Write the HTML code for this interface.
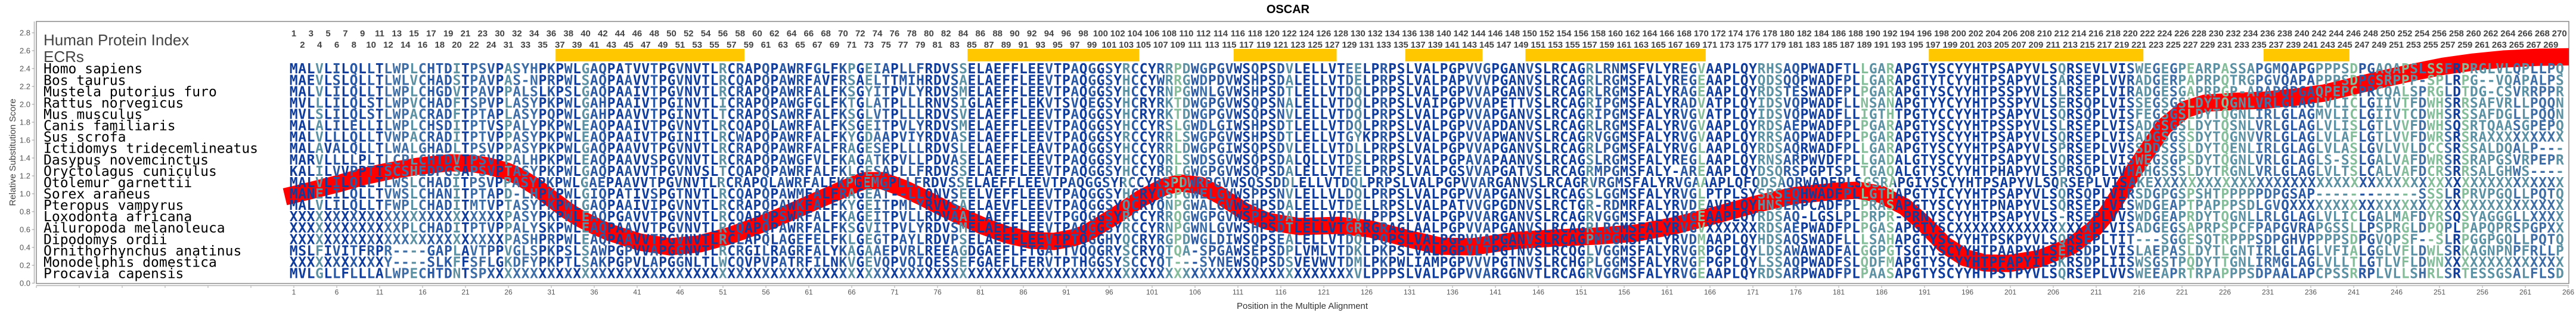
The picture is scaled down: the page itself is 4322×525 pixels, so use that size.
<!DOCTYPE html>
<html><head><meta charset="utf-8">
<style>
body{margin:0;width:4322px;height:525px;position:relative;overflow:hidden;background:#fff;font-family:"Liberation Sans",Arial,sans-serif}
svg{position:absolute;left:0;top:0}
.a{stop-color:#103c9c}.b{stop-color:#2a58a3}.c{stop-color:#3f6ea6}.d{stop-color:#5c90a3}.e{stop-color:#85bd9b}
.s{font-family:"DejaVu Sans Mono","Liberation Mono",monospace;font-weight:bold;font-size:23px;fill:url(#g)}
.n{font-family:"DejaVu Sans Mono","Liberation Mono",monospace;font-size:23px;fill:#000}
.row{position:absolute;display:flex;font-weight:bold;font-size:15px;line-height:17px;color:#444;white-space:nowrap}
.row b{flex:0 0 28.8px;width:28.8px;text-align:center}
.xl{position:absolute;display:flex;top:483px;left:457px;font-size:12px;line-height:14px;color:#555;white-space:nowrap}
.xl i{flex:0 0 72px;width:72px;text-align:center;font-style:normal}
</style></head><body>
<svg width="4322" height="525" viewBox="0 0 4322 525">
<defs>
<linearGradient id="g" gradientUnits="userSpaceOnUse" x1="485.8" y1="0" x2="14885.8" y2="0">
<stop offset="0" class="a"/><stop offset=".003" class="a"/><stop offset=".003" class="d"/><stop offset=".004" class="d"/><stop offset=".004" class="a"/><stop offset=".005" class="a"/><stop offset=".005" class="b"/><stop offset=".006" class="b"/><stop offset=".006" class="a"/><stop offset=".007" class="a"/><stop offset=".007" class="b"/><stop offset=".008" class="b"/><stop offset=".008" class="a"/><stop offset=".009" class="a"/><stop offset=".009" class="b"/><stop offset=".010" class="b"/><stop offset=".010" class="a"/><stop offset=".011" class="a"/><stop offset=".011" class="c"/><stop offset=".014" class="c"/><stop offset=".014" class="d"/><stop offset=".015" class="d"/><stop offset=".015" class="c"/><stop offset=".016" class="c"/><stop offset=".016" class="b"/><stop offset=".019" class="b"/><stop offset=".019" class="d"/><stop offset=".020" class="d"/><stop offset=".020" class="a"/><stop offset=".021" class="a"/><stop offset=".021" class="c"/><stop offset=".023" class="c"/><stop offset=".023" class="b"/><stop offset=".024" class="b"/><stop offset=".024" class="a"/><stop offset=".025" class="a"/><stop offset=".025" class="d"/><stop offset=".026" class="d"/><stop offset=".026" class="c"/><stop offset=".029" class="c"/><stop offset=".029" class="a"/><stop offset=".030" class="a"/><stop offset=".030" class="b"/><stop offset=".031" class="b"/><stop offset=".031" class="a"/><stop offset=".032" class="a"/><stop offset=".032" class="b"/><stop offset=".033" class="b"/><stop offset=".033" class="a"/><stop offset=".034" class="a"/><stop offset=".034" class="d"/><stop offset=".035" class="d"/><stop offset=".035" class="b"/><stop offset=".037" class="b"/><stop offset=".037" class="a"/><stop offset=".039" class="a"/><stop offset=".039" class="b"/><stop offset=".040" class="b"/><stop offset=".040" class="a"/><stop offset=".042" class="a"/><stop offset=".042" class="b"/><stop offset=".043" class="b"/><stop offset=".043" class="a"/><stop offset=".045" class="a"/><stop offset=".045" class="b"/><stop offset=".046" class="b"/><stop offset=".046" class="a"/><stop offset=".050" class="a"/><stop offset=".050" class="d"/><stop offset=".051" class="d"/><stop offset=".051" class="a"/><stop offset=".052" class="a"/><stop offset=".052" class="b"/><stop offset=".053" class="b"/><stop offset=".053" class="a"/><stop offset=".055" class="a"/><stop offset=".055" class="b"/><stop offset=".056" class="b"/><stop offset=".056" class="a"/><stop offset=".057" class="a"/><stop offset=".057" class="b"/><stop offset=".058" class="b"/><stop offset=".058" class="a"/><stop offset=".059" class="a"/><stop offset=".059" class="b"/><stop offset=".060" class="b"/><stop offset=".060" class="a"/><stop offset=".061" class="a"/><stop offset=".061" class="b"/><stop offset=".062" class="b"/><stop offset=".062" class="a"/><stop offset=".064" class="a"/><stop offset=".064" class="b"/><stop offset=".065" class="b"/><stop offset=".065" class="d"/><stop offset=".066" class="d"/><stop offset=".066" class="a"/><stop offset=".067" class="a"/><stop offset=".067" class="d"/><stop offset=".068" class="d"/><stop offset=".068" class="c"/><stop offset=".069" class="c"/><stop offset=".069" class="b"/><stop offset=".070" class="b"/><stop offset=".070" class="a"/><stop offset=".071" class="a"/><stop offset=".071" class="b"/><stop offset=".074" class="b"/><stop offset=".074" class="a"/><stop offset=".077" class="a"/><stop offset=".077" class="b"/><stop offset=".078" class="b"/><stop offset=".078" class="d"/><stop offset=".079" class="d"/><stop offset=".079" class="a"/><stop offset=".088" class="a"/><stop offset=".088" class="b"/><stop offset=".089" class="b"/><stop offset=".089" class="a"/><stop offset=".091" class="a"/><stop offset=".091" class="b"/><stop offset=".092" class="b"/><stop offset=".092" class="a"/><stop offset=".093" class="a"/><stop offset=".093" class="b"/><stop offset=".094" class="b"/><stop offset=".094" class="a"/><stop offset=".095" class="a"/><stop offset=".095" class="b"/><stop offset=".096" class="b"/><stop offset=".096" class="a"/><stop offset=".097" class="a"/><stop offset=".097" class="d"/><stop offset=".098" class="d"/><stop offset=".098" class="b"/><stop offset=".099" class="b"/><stop offset=".099" class="a"/><stop offset=".101" class="a"/><stop offset=".101" class="b"/><stop offset=".102" class="b"/><stop offset=".102" class="d"/><stop offset=".103" class="d"/><stop offset=".103" class="e"/><stop offset=".104" class="e"/><stop offset=".104" class="d"/><stop offset=".105" class="d"/><stop offset=".105" class="b"/><stop offset=".106" class="b"/><stop offset=".106" class="c"/><stop offset=".107" class="c"/><stop offset=".107" class="b"/><stop offset=".110" class="b"/><stop offset=".110" class="a"/><stop offset=".112" class="a"/><stop offset=".112" class="b"/><stop offset=".113" class="b"/><stop offset=".113" class="a"/><stop offset=".115" class="a"/><stop offset=".115" class="b"/><stop offset=".116" class="b"/><stop offset=".116" class="d"/><stop offset=".117" class="d"/><stop offset=".117" class="a"/><stop offset=".123" class="a"/><stop offset=".123" class="c"/><stop offset=".124" class="c"/><stop offset=".124" class="d"/><stop offset=".125" class="d"/><stop offset=".125" class="a"/><stop offset=".127" class="a"/><stop offset=".127" class="b"/><stop offset=".128" class="b"/><stop offset=".128" class="a"/><stop offset=".137" class="a"/><stop offset=".137" class="b"/><stop offset=".140" class="b"/><stop offset=".140" class="a"/><stop offset=".144" class="a"/><stop offset=".144" class="b"/><stop offset=".145" class="b"/><stop offset=".145" class="a"/><stop offset=".151" class="a"/><stop offset=".151" class="d"/><stop offset=".152" class="d"/><stop offset=".152" class="b"/><stop offset=".155" class="b"/><stop offset=".155" class="a"/><stop offset=".162" class="a"/><stop offset=".162" class="b"/><stop offset=".164" class="b"/><stop offset=".164" class="e"/><stop offset=".165" class="e"/><stop offset=".165" class="a"/><stop offset=".171" class="a"/><stop offset=".171" class="d"/><stop offset=".174" class="d"/><stop offset=".174" class="b"/><stop offset=".176" class="b"/><stop offset=".176" class="a"/><stop offset=".181" class="a"/><stop offset=".181" class="b"/><stop offset=".182" class="b"/><stop offset=".182" class="a"/><stop offset=".183" class="a"/><stop offset=".183" class="e"/><stop offset=".184" class="e"/><stop offset=".184" class="d"/><stop offset=".186" class="d"/><stop offset=".186" class="e"/><stop offset=".187" class="e"/><stop offset=".187" class="a"/><stop offset=".206" class="a"/><stop offset=".206" class="d"/><stop offset=".207" class="d"/><stop offset=".207" class="a"/><stop offset=".209" class="a"/><stop offset=".209" class="b"/><stop offset=".210" class="b"/><stop offset=".210" class="a"/><stop offset=".214" class="a"/><stop offset=".214" class="b"/><stop offset=".215" class="b"/><stop offset=".215" class="d"/><stop offset=".217" class="d"/><stop offset=".217" class="c"/><stop offset=".218" class="c"/><stop offset=".218" class="d"/><stop offset=".219" class="d"/><stop offset=".219" class="c"/><stop offset=".220" class="c"/><stop offset=".220" class="d"/><stop offset=".221" class="d"/><stop offset=".221" class="e"/><stop offset=".222" class="e"/><stop offset=".222" class="d"/><stop offset=".225" class="d"/><stop offset=".225" class="e"/><stop offset=".226" class="e"/><stop offset=".226" class="d"/><stop offset=".229" class="d"/><stop offset=".229" class="c"/><stop offset=".232" class="c"/><stop offset=".232" class="b"/><stop offset=".236" class="b"/><stop offset=".236" class="d"/><stop offset=".240" class="d"/><stop offset=".240" class="e"/><stop offset=".241" class="e"/><stop offset=".241" class="b"/><stop offset=".243" class="b"/><stop offset=".243" class="d"/><stop offset=".246" class="d"/><stop offset=".246" class="e"/><stop offset=".247" class="e"/><stop offset=".247" class="d"/><stop offset=".248" class="d"/><stop offset=".248" class="c"/><stop offset=".249" class="c"/><stop offset=".249" class="e"/><stop offset=".251" class="e"/><stop offset=".251" class="c"/><stop offset=".252" class="c"/><stop offset=".252" class="a"/><stop offset=".253" class="a"/><stop offset=".253" class="e"/><stop offset=".254" class="e"/><stop offset=".254" class="d"/><stop offset=".259" class="d"/><stop offset=".259" class="c"/><stop offset=".260" class="c"/><stop offset=".260" class="d"/><stop offset=".261" class="d"/><stop offset=".261" class="c"/><stop offset=".264" class="c"/><stop offset=".264" class="d"/><stop offset="1" class="d"/>
</linearGradient>
<clipPath id="pc"><rect x="61" y="36" width="4249" height="439.5"/></clipPath>
</defs>

<!-- title -->
<text x="2161" y="22" text-anchor="middle" font-family="Liberation Sans, Arial, sans-serif" font-weight="bold" font-size="20" fill="#000">OSCAR</text>

<!-- plot frame -->
<rect x="61" y="36" width="4249" height="439.5" fill="none" stroke="#8a8a8a" stroke-width="1.5"/>
<line x1="57.5" y1="36" x2="57.5" y2="475.5" stroke="#b4b4b4" stroke-width="1.5"/>
<line x1="61" y1="479" x2="4310" y2="479" stroke="#b4b4b4" stroke-width="1.5"/>

<!-- y ticks -->
<path d="M53.5 475H57.5M53.5 445H57.5M53.5 415H57.5M53.5 385H57.5M53.5 355H57.5M53.5 325H57.5M53.5 295H57.5M53.5 265H57.5M53.5 235H57.5M53.5 205H57.5M53.5 175H57.5M53.5 145H57.5M53.5 115H57.5M53.5 85H57.5M53.5 55H57.5" stroke="#999" stroke-width="1"/>
<g font-family="Liberation Sans, Arial, sans-serif" font-size="13" fill="#555" text-anchor="end">
<text x="51" y="479.5">0.0</text><text x="51" y="449.5">0.2</text><text x="51" y="419.5">0.4</text><text x="51" y="389.5">0.6</text><text x="51" y="359.5">0.8</text><text x="51" y="329.5">1.0</text><text x="51" y="299.5">1.2</text><text x="51" y="269.5">1.4</text><text x="51" y="239.5">1.6</text><text x="51" y="209.5">1.8</text><text x="51" y="179.5">2.0</text><text x="51" y="149.5">2.2</text><text x="51" y="119.5">2.4</text><text x="51" y="89.5">2.6</text><text x="51" y="59.5">2.8</text>
</g>
<text transform="translate(26,255.5) rotate(-90)" text-anchor="middle" font-family="Liberation Sans, Arial, sans-serif" font-size="15" fill="#444">Relative Substitution Score</text>

<!-- x ticks -->
<path d="M61 479v4M133 479v4M205 479v4M277 479v4M349 479v4M421 479v4M493 479v4M565 479v4M637 479v4M709 479v4M781 479v4M853 479v4M925 479v4M997 479v4M1069 479v4M1141 479v4M1213 479v4M1285 479v4M1357 479v4M1429 479v4M1501 479v4M1573 479v4M1645 479v4M1717 479v4M1789 479v4M1861 479v4M1933 479v4M2005 479v4M2077 479v4M2149 479v4M2221 479v4M2293 479v4M2365 479v4M2437 479v4M2509 479v4M2581 479v4M2653 479v4M2725 479v4M2797 479v4M2869 479v4M2941 479v4M3013 479v4M3085 479v4M3157 479v4M3229 479v4M3301 479v4M3373 479v4M3445 479v4M3517 479v4M3589 479v4M3661 479v4M3733 479v4M3805 479v4M3877 479v4M3949 479v4M4021 479v4M4093 479v4M4165 479v4M4237 479v4M4309 479v4" stroke="#aaa" stroke-width="1"/>
<text x="2185" y="518" text-anchor="middle" font-family="Liberation Sans, Arial, sans-serif" font-size="15" fill="#333">Position in the Multiple Alignment</text>

<!-- header -->
<text x="73" y="76" font-family="Liberation Sans, Arial, sans-serif" font-size="26" fill="#444">Human Protein Index</text>
<text x="73" y="104" font-family="Liberation Sans, Arial, sans-serif" font-size="26" fill="#444">ECRs</text>

<!-- ECR bars -->
<g fill="#ffc700">
<rect x="932.2" y="82" width="316.8" height="21"/>
<rect x="1623.4" y="82" width="288" height="21"/>
<rect x="2069.8" y="82" width="172.8" height="21"/>
<rect x="2357.8" y="82" width="129.6" height="21"/>
<rect x="2559.4" y="82" width="302.4" height="21"/>
<rect x="3236.2" y="82" width="360" height="21"/>
<rect x="3797.8" y="82" width="144" height="21"/>
</g>

<!-- red curve -->
<polyline clip-path="url(#pc)" fill="none" stroke="#ff0000" stroke-width="29" stroke-linejoin="round" stroke-linecap="butt" points="478,330 520,320 568,308 610,296 652,287 700,279 754,273 790,274 821,279 850,287 871,296 900,314 922,331 950,352 972,366 1000,380 1023,390 1073,406 1124,414 1174,409 1225,395 1275,377 1326,356 1376,334 1427,312 1450,303 1480,303 1516,316 1550,332 1583,349 1615,364 1649,379 1690,394 1730,403 1768,405 1800,399 1821,392 1850,375 1874,360 1914,333 1954,313 1980,307 2014,311 2047,328 2087,354 2126,371 2179,380 2246,378 2299,384 2365,401 2418,413 2470,414 2546,403 2613,399 2679,396 2745,391 2812,378 2878,361 2944,343 3010,328 3077,321 3117,319 3156,326 3196,347 3229,376 3262,410 3296,432 3330,441 3370,442 3421,434 3475,413 3514,383 3535,358 3556,325 3581,285 3606,248 3631,212 3665,184 3700,173 3750,170 3800,168 3850,163 3900,156 3950,144 4000,132 4050,121 4100,111 4150,104 4200,99 4260,96 4330,95"/>

<!-- species names -->
<g class="n">
<text x="73" y="123.2">Homo sapiens</text>
<text x="73" y="142.3">Bos taurus</text>
<text x="73" y="161.3">Mustela putorius furo</text>
<text x="73" y="180.4">Rattus norvegicus</text>
<text x="73" y="199.5">Mus musculus</text>
<text x="73" y="218.6">Canis familiaris</text>
<text x="73" y="237.6">Sus scrofa</text>
<text x="73" y="256.7">Ictidomys tridecemlineatus</text>
<text x="73" y="275.8">Dasypus novemcinctus</text>
<text x="73" y="294.8">Oryctolagus cuniculus</text>
<text x="73" y="313.9">Otolemur garnettii</text>
<text x="73" y="333.0">Sorex araneus</text>
<text x="73" y="352.0">Pteropus vampyrus</text>
<text x="73" y="371.1">Loxodonta africana</text>
<text x="73" y="390.2">Ailuropoda melanoleuca</text>
<text x="73" y="409.3">Dipodomys ordii</text>
<text x="73" y="428.3">Ornithorhynchus anatinus</text>
<text x="73" y="447.4">Monodelphis domestica</text>
<text x="73" y="466.5">Procavia capensis</text>
</g>

<!-- sequences -->
<g class="s">
<text x="485.8" y="123.2" textLength="3816" lengthAdjust="spacing">MALVLILQLLTLWPLCHTDITPSVPASYHPKPWLGAQPATVVTPGVNVTLRCRAPQPAWRFGLFKPGEIAPLLFRDVSSELAEFFLEEVTPAQGGSYRCCYRRPDWGPGVWSQPSDVLELLVTEELPRPSLVALPGPVVGPGANVSLRCAGRLRNMSFVLYREGVAAPLQYRHSAQPWADFTLLGARAPGTYSCYYHTPSAPYVLSQRSEVLVISWEGEGPEARPASSAPGMQAPGPPPSDPGAQAPSLSSFRPRGLVLQPLLPQ</text>
<text x="485.8" y="142.3" textLength="3816" lengthAdjust="spacing">MAEVLSLQLLTLWLVCHADSTPAVPAS-NPRPWLSAQPAAVVTPGVNVTLRCQAPQPAWRFAVFRSAELTTMIHRDVSAELAEFFLEEVTPAQGGSYHCCYWRRGWDPDVWSHPSDALELLVTDELPRPSLVALPAPVVVPGANVSLRCAGRLRGMSFALYREGEAAPLQYQDSQQPWADFPLLGARAPGTYTCYYHTPSAPYVLSARSEPLVVRADGERPAPRPQTRGPGVQAPAPPPSDPGSRPPP-SPLRPG--VQAPALPS</text>
<text x="485.8" y="161.3" textLength="3816" lengthAdjust="spacing">MALVLILQLLTLWPLCHGDVTPAVPPALSLKPSLGAQPAAIVTPGVNVTLRCRAPQPAWRFALFKSGYITPVLYRDVSMELAEFFLEEVTPAQGGSYHCCYRNPGWNLGVWSHPSDTLELLVTDQLPPPSLVALPGPVVAPGANVSLRCAGRLRGMSFALYRAGEAAPLQYRDSTESWADFPLPGARAPGTYSCYYHTPSSPYVLSLRSEPLVIRADGESGAPRPGP-APAPQPGAQPEPCPRCQALSPRGLDTDG-CSVRRPPR</text>
<text x="485.8" y="180.4" textLength="3816" lengthAdjust="spacing">MVLLLILQLSTLWPVCHADFTSPVPLASYPKPWLGAHPAAIVTPGINVTLICRAPQPAWGFGLFKTGLATPLLLRNVSIGLAEFFLEKVTSVQEGSYHCRYRKTDWGPGVWSQPSNALELLVTDQLPRPSLVAIPGPVVAPETTVSLRCAGRIPGMSFALYRADVATPLQYIDSVQPWADFLLNSANAPGTYYCYYHTPSSPYVLSERSQPLVISSEGSGSLDYTQGNLVRLGLAGLVLICLGIIVTFDWHSRRSAFVRLLPQQN</text>
<text x="485.8" y="199.5" textLength="3816" lengthAdjust="spacing">MVLSLILQLSTLWPACRADFTPTAPLASYPQPWLGAHPAAVVTPGINVTLTCRAPQSAWRFALFKSGLVTPLLLRDVSVELAEFFLEEVTPAQGGSYHCRYRKTDWGPGVWSQPSNVLELLVTDQLPRPSLVALPGPVVAPGANVSLRCAGRIPGMSFALYRVGVATPLQYIDSVQPWADFLLIGTHTPGTYCCYYHTPSAPYVLSQRSQPLVISFEGSGSLDYTQGNLIRLGLAGMVLICLGIIVTCDWHSRSSAFDGLLPQQN</text>
<text x="485.8" y="218.6" textLength="3816" lengthAdjust="spacing">MALALILELLILWPLCHSDITPTVSPALYPKPWLEAQPAAIVTPGVNVTLRCQAPQLAWRFALFKSGEITPVLYRDVSMELAEFFLEEVTPAQGGSYHCCYRSLGWDLGIWSHPSDTLELLVTDQLPRPSLVALPGPVVAPDANVSLRCAGRLRGMSFALYRVGVAAPLQYRDSAEPWADFPLPGARAPGTYSCYYHTPSSPYVLSLRSEPLVISADGSGSLDYTQSNLVRLGLAGLVLISLGTLVVFDWHSQSRTQAASGPEPQ</text>
<text x="485.8" y="237.6" textLength="3816" lengthAdjust="spacing">MALVLLLQLLTVWPACRADITPTVPPASYPKPWLEAQPAAIVTPGINITLRCWAPQPAWRFALFKYGDAAPVIYRDVASELAEFFLEEVTPAQGGSYRCCYRRLSWGPGVWSHPSDTLELLVTGYKPRPSLVALPGPVVAPWANVSLRCAGRVGGMSFALYRVGVAAPLQYRRSAQPWADFPLPGARAPGTYSCYYHTPSAPYVLSQRSEPLVISADGSGSSDYTQGNVVRLGLAGLVLAFLGTLVVFDWRSRSRAXXXXXXXXX</text>
<text x="485.8" y="256.7" textLength="3816" lengthAdjust="spacing">MALAVALQLLTLWALGHADLTPSVPPASYPKPWLGAQPAAVVTPGVNVTLRCRAPQPAWRFALFRAGESEPLLLRDVSLELAEFFLEAVTPAQGGSYHCCYRRLDWGPGIWSQPSDVLELLVTDLLPRPSLVALPGPVVAPGANVSLRCAGRLPGMSFALYRVGLAAPLQYRDSAQRWADFPLLGARAPGTYSCYYHTPSAPYVLSPRSEPLVVSSDDSSSLDYTQENLIRLGLAGLVLASLGVLVVLDCCSRSSALDQALP---</text>
<text x="485.8" y="275.8" textLength="3816" lengthAdjust="spacing">MARVLLLLPLTLCPLCHTDVTPSVPPALHPKPWLEAQPAAVVSPGVNVTLRCRAPQPAWGFVLFKAGATKPVLLPDVASELAEFFLEEVTPAQGGSYHCCYQRLSWDSGVWSQPSDALQLLVTDSLPRPSLVALPGPAVAPAANVSLRCAGSLRGMSFALYREGLAAPLQYRNSARPWVDFPLLGADALGTYSCYYHTPSAPYVLSQRSEPLVISWEGSGPSDYTQGNLVRLGLAGLS-SSLGALVAFDWRSRSRAPGSVRPEPR</text>
<text x="485.8" y="294.8" textLength="3816" lengthAdjust="spacing">KALILVVPPTTSCSHEDPGSAPSVPTASYPKPWLGAQPAAVVTPGVNVSLTCQAPQPAWRFALFKLGESAPLLFRDVSSELAEFFLEEVTPAQGGSYHCCYRRLGWGPGVWSQPSDALELLVTEELPRPSLVALPGSVVAPGATVSLRCAGRMPGMSFALY-AREAAPLQYDSQRSPGPTSPLTGAQALGTYSCYYHTPHAPYVLSPRSQPLVVHAHGSSSLDYTRGNLVRLGLAGLVLTSLCALVAFDCRSRRSALGHWS----</text>
<text x="485.8" y="313.9" textLength="3816" lengthAdjust="spacing">MALVLILQLLTLWSLCHADITPSVPPASYPKPWLGAEPAAVVTPGVNVTLRCRAPQLAWRFALFKPGEMGPLLFRDVSSELAEFFLEEVTPAQGGSYRCCYRSPDWRPGVWSQSSDDLELLVTDQLPRPSLVALPGPVVARGANVSLRCAGRVRGMSFALYRVGAAAPLQFQDSAQRWADFPLSGSRAPGIYSCYYHTPSAPYVLSQRSEPLVISAKEXXXXXXXXXXXXXXXXXXXXXXXXXXXXXXXXXXXXXXXXXXXXXXXX</text>
<text x="485.8" y="333.0" textLength="3816" lengthAdjust="spacing">MANELILQLLTVWSLCHANITPTAPD-LHPKPWLGIQPATIVSPGTNVTLRCQAPQPAWMFALFRAGEAT--LLQNVSEELVEFFLEEVTPAQGGSYHCRYQSPGWELGVWSPPSNVLELLVLDQLPRPSLVALPGPVVAPGANVSLRCAGSLGGMSFALYRVGLPTPLSYSRSEQHWADFPLLGTHAPGTYICYYHTPSAPYVLSQRSQPLVIRSDGPGSPSHTPPPPPDPGSAP------------SSSLRPRVPGQLLPQTQ</text>
<text x="485.8" y="352.0" textLength="3816" lengthAdjust="spacing">MALVLILQLLTFWPLCHADITMTVPTASYPKPWLGAQPAAIVIPGVNVTLRCRAPQPAWKFALFKYGEITPMLYRVVSAELAEVFLEEVTPAQGGSYQCRYQNPGWALGVWSHPSDALELLVTDELLRPSLVALPATVVGPGDNVSLRCTGR-RDMRFALYRVDEAVPLQYHNSERPCADFPLPRASAPGTYSCYYHTPNAPYVLSQRSEPLVISWDGEAPTPAPPPSDLGVQXXXXXXXXXXXXXXXXXXXXXXXXXXXXXXXX</text>
<text x="485.8" y="371.1" textLength="3816" lengthAdjust="spacing">XXXXXXXXXXXXXXXXXXXXXXXXXPASYPKPWLEAQPGAVVTPGVNVTLRCQAPQPSWRFALFKAGEITPVLLRDVAAELAEFFLEEVTPGQGGSYRCCYRRQGWGPGVWSPPSDALELLVTDVLPPPSLVALPGPVVARGANVSLRCAGRVGGMSFALYRVGEAAPLQYRDSAQ-LGSLPLPRPR-PRNYSCYYHTPSAPYVLS-RSEPLVVSWDGEAPRDYTQGNLLRLGLAGLVLICLGALMAFDYRSQSYAGGGLLXXXX</text>
<text x="485.8" y="390.2" textLength="3816" lengthAdjust="spacing">XXXXXXXXXXXXXPLCHADITPTVPPALYSKPWLEAQPAAVVTPGVNVTLRCQAPQPAWRFALFKSGVITPVLYRDVSMELAEFFLEEVTPAQGGSYRCCYRNPGWNLGVWSHPSDTLELLVTGRRGRAGLAALPGPVVAPGANVSLRCAGRLRGMSFALYRVGVXXXXXXRDSAEPWADFPLPGASAPGTYSCXXXXXXXXXXXXXXXXPLVISADGEGSAPRPSPCFPAPGVRAPGSSLLPSPRGLDPQPLPAPQPRSPGPXX</text>
<text x="485.8" y="409.3" textLength="3816" lengthAdjust="spacing">XXXXXXXXXXXXXXXXXXXXXXXXXPASHPRPWLEAQPAAVVTPGVNVTLRCLAPQLAGEFELFKLGEGTPAYLRDVPSELAEFFLEEVTPTQGGHYQCRYRGPDWGLDIWSQPSEALELLVTDQLPQPSLVALPGPVVAPGANVSLRCAGPMPGMSFALYRVDMAAPLQYHDSAQSWADFLLLSAHAPGTYSCYYHTPSKPYVLSQRSEPLTIT---SGGESQTRPPPSDPGHVPPPPSDPGVQPSF--SLRPGGPGQLLPQTQ</text>
<text x="485.8" y="428.3" textLength="3816" lengthAdjust="spacing">MSLFIVITFRPR----GAPLAVTPPVGLSPKPSLSAWPGPVVAPGGNVTLRCRGILRAGRFALYKAGAAEPVRLREEAGDGAEFLFTGATTVQQGRYSCRYQTQA-SPGAWSEPSDPLVMLVTDKLPKPSLVALPGPVLTPGTNVSLRCQGLVGGMSFALYRVGRPGPLQYLDSAWAWADFALGGPGTSGTYSCYYHTPAAPYVLSERSDPLVISLAEPASLDYTLGNTIRLGLAGLVFIALGGLVFLDWLSRKAGNPNPFRLLP</text>
<text x="485.8" y="447.4" textLength="3816" lengthAdjust="spacing">XXXXXXXXXXXY----SLKFFSFLGKDFYPKPTLSAKPGPVLAPGGNLTLWCQVPVPATRFILNKVGEVQPVQIQESSEFGAEFLFERVTPTHGGSYSCCYQT---SYNEWSQPSDSVEVWVTDMLPKPWLIAMPGPVVVPGTNVSLRCHGPLGGMSFALYRVGFPGPLQYLSSAQPWADFSLQDFMAPGTYSCYYHTPFAPYILSKRSDPLIISWSGSTPQDYTTGNLIRMGLAGLVLLTLGTLVFLDWNXXXXXXXXXXXXXX</text>
<text x="485.8" y="466.5" textLength="3816" lengthAdjust="spacing">MVLGLLFLLLALWPECHTDNTSPXXXXXXXXXXXXXXXXXXXXXXXXXXXXXXXXXXXXXXXXXXXXXXXXXXXXXXXXXXXXXXXXXXXXXXXXXXXXXXXXXXXXXXXXXXXXXXXXXXXXXVLPPPSLVALPGPVVARGGNVTLRCAGRVGGMSFALYRVGEAAPLQYRDSARPWADFPLPAASAPGTYSCYYHTPSTPYVLSQRSEPLVVSWEEAPRTRPAPPPSDPAALAPCPSSRRPLVLLSHRLSRTESSGSALFLSD</text>
</g>
</svg>

<div class="row" style="left:478.6px;top:48px"><b>1</b><b>3</b><b>5</b><b>7</b><b>9</b><b>11</b><b>13</b><b>15</b><b>17</b><b>19</b><b>21</b><b>23</b><b>30</b><b>32</b><b>34</b><b>36</b><b>38</b><b>40</b><b>42</b><b>44</b><b>46</b><b>48</b><b>50</b><b>52</b><b>54</b><b>56</b><b>58</b><b>60</b><b>62</b><b>64</b><b>66</b><b>68</b><b>70</b><b>72</b><b>74</b><b>76</b><b>78</b><b>80</b><b>82</b><b>84</b><b>86</b><b>88</b><b>90</b><b>92</b><b>94</b><b>96</b><b>98</b><b>100</b><b>102</b><b>104</b><b>106</b><b>108</b><b>110</b><b>112</b><b>114</b><b>116</b><b>118</b><b>120</b><b>122</b><b>124</b><b>126</b><b>128</b><b>130</b><b>132</b><b>134</b><b>136</b><b>138</b><b>140</b><b>142</b><b>144</b><b>146</b><b>148</b><b>150</b><b>152</b><b>154</b><b>156</b><b>158</b><b>160</b><b>162</b><b>164</b><b>166</b><b>168</b><b>170</b><b>172</b><b>174</b><b>176</b><b>178</b><b>180</b><b>182</b><b>184</b><b>186</b><b>188</b><b>190</b><b>192</b><b>194</b><b>196</b><b>198</b><b>200</b><b>202</b><b>204</b><b>206</b><b>208</b><b>210</b><b>212</b><b>214</b><b>216</b><b>218</b><b>220</b><b>222</b><b>224</b><b>226</b><b>228</b><b>230</b><b>232</b><b>234</b><b>236</b><b>238</b><b>240</b><b>242</b><b>244</b><b>246</b><b>248</b><b>250</b><b>252</b><b>254</b><b>256</b><b>258</b><b>260</b><b>262</b><b>264</b><b>266</b><b>268</b><b>270</b></div>
<div class="row" style="left:493px;top:67px"><b>2</b><b>4</b><b>6</b><b>8</b><b>10</b><b>12</b><b>14</b><b>16</b><b>18</b><b>20</b><b>22</b><b>24</b><b>31</b><b>33</b><b>35</b><b>37</b><b>39</b><b>41</b><b>43</b><b>45</b><b>47</b><b>49</b><b>51</b><b>53</b><b>55</b><b>57</b><b>59</b><b>61</b><b>63</b><b>65</b><b>67</b><b>69</b><b>71</b><b>73</b><b>75</b><b>77</b><b>79</b><b>81</b><b>83</b><b>85</b><b>87</b><b>89</b><b>91</b><b>93</b><b>95</b><b>97</b><b>99</b><b>101</b><b>103</b><b>105</b><b>107</b><b>109</b><b>111</b><b>113</b><b>115</b><b>117</b><b>119</b><b>121</b><b>123</b><b>125</b><b>127</b><b>129</b><b>131</b><b>133</b><b>135</b><b>137</b><b>139</b><b>141</b><b>143</b><b>145</b><b>147</b><b>149</b><b>151</b><b>153</b><b>155</b><b>157</b><b>159</b><b>161</b><b>163</b><b>165</b><b>167</b><b>169</b><b>171</b><b>173</b><b>175</b><b>177</b><b>179</b><b>181</b><b>183</b><b>185</b><b>187</b><b>189</b><b>191</b><b>193</b><b>195</b><b>197</b><b>199</b><b>201</b><b>203</b><b>205</b><b>207</b><b>209</b><b>211</b><b>213</b><b>215</b><b>217</b><b>219</b><b>221</b><b>223</b><b>225</b><b>227</b><b>229</b><b>231</b><b>233</b><b>235</b><b>237</b><b>239</b><b>241</b><b>243</b><b>245</b><b>247</b><b>249</b><b>251</b><b>253</b><b>255</b><b>257</b><b>259</b><b>261</b><b>263</b><b>265</b><b>267</b><b>269</b></div>

<div class="xl"><i>1</i><i>6</i><i>11</i><i>16</i><i>21</i><i>26</i><i>31</i><i>36</i><i>41</i><i>46</i><i>51</i><i>56</i><i>61</i><i>66</i><i>71</i><i>76</i><i>81</i><i>86</i><i>91</i><i>96</i><i>101</i><i>106</i><i>111</i><i>116</i><i>121</i><i>126</i><i>131</i><i>136</i><i>141</i><i>146</i><i>151</i><i>156</i><i>161</i><i>166</i><i>171</i><i>176</i><i>181</i><i>186</i><i>191</i><i>196</i><i>201</i><i>206</i><i>211</i><i>216</i><i>221</i><i>226</i><i>231</i><i>236</i><i>241</i><i>246</i><i>251</i><i>256</i><i>261</i><i>266</i></div>
</body></html>
